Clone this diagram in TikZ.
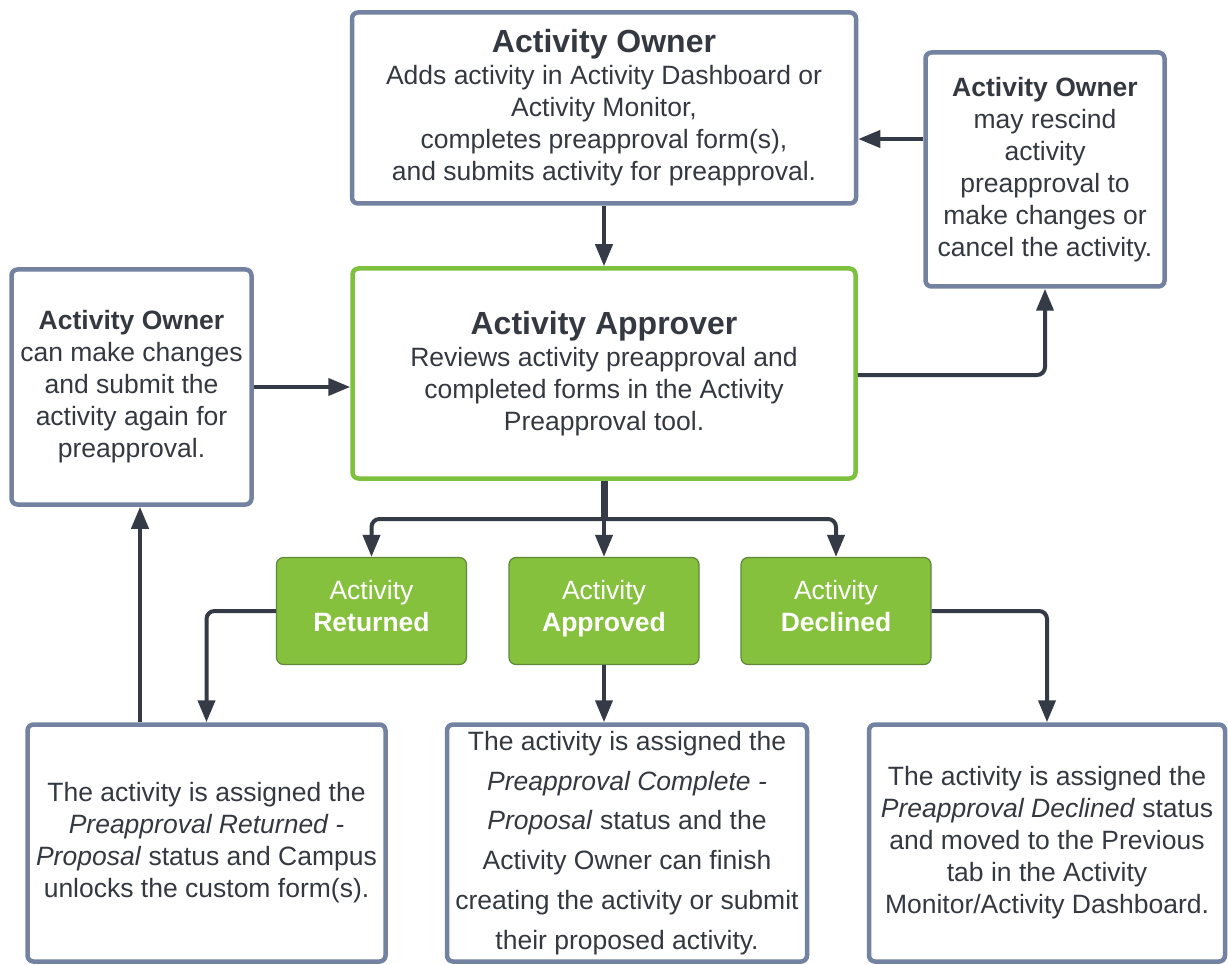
\documentclass[tikz,border=0pt]{standalone}
\usepackage{fontspec}
\setmainfont{Liberation Sans}
\usetikzlibrary{arrows.meta}
\definecolor{boxgrey}{RGB}{114,130,160}
\definecolor{textdark}{RGB}{52,57,65}
\definecolor{approvergreen}{RGB}{125,193,62}
\definecolor{statusgreen}{RGB}{133,193,61}
\definecolor{statusedge}{RGB}{96,136,58}
\definecolor{linkdark}{RGB}{52,58,70}
\newcommand\boxtitle[1]{{\fontsize{32}{38}\selectfont\bfseries #1}}
\begin{document}
\begin{tikzpicture}[x=1pt,y=-1pt,
    box/.style={draw=boxgrey,line width=4.5pt,rounded corners=6pt,fill=white,text=textdark,
      align=center,inner sep=0pt,font=\fontsize{26.5}{32}\selectfont},
    approverbox/.style={box,draw=approvergreen},
    statusbox/.style={draw=statusedge,line width=1.2pt,fill=statusgreen,text=white,rounded corners=7pt,
      align=center,inner sep=0pt,minimum width=190pt,minimum height=107pt,font=\fontsize{26.5}{32}\selectfont},
    link/.style={draw=linkdark,line width=4pt,rounded corners=8pt,-{Triangle[width=17pt,length=22pt]}},
    stem/.style={draw=linkdark,line width=7pt}]
    \useasboundingbox (0,0) rectangle (1228,965);
    % owner and approver boxes
    \node[box,minimum width=504pt,minimum height=191pt] (owner) at (604,108)
        {\boxtitle{Activity Owner}\\ Adds activity in Activity Dashboard or\\ Activity Monitor,\\
         completes preapproval form(s),\\ and submits activity for preapproval.};
    \node[box,minimum width=239pt,minimum height=234pt] (rescind) at (1045,169.5)
        {\textbf{Activity Owner}\\ may rescind\\ activity\\ preapproval to\\ make changes or\\ cancel the activity.};
    \node[approverbox,minimum width=503pt,minimum height=210pt] (approver) at (604,373.5)
        {\boxtitle{Activity Approver}\\ Reviews activity preapproval and\\ completed forms in the Activity\\ Preapproval tool.};
    \node[box,minimum width=240pt,minimum height=235pt] (changes) at (131.5,387)
        {\textbf{Activity Owner}\\ can make changes\\ and submit the\\ activity again for\\ preapproval.};
    % status boxes
    \node[statusbox] (returned) at (371.5,611) {Activity\\ \textbf{Returned}\strut};
    \node[statusbox] (approved) at (604,611) {Activity\\ \textbf{Approved}\strut};
    \node[statusbox] (declined) at (836,611) {Activity\\ \textbf{Declined}\strut};
    % result boxes
    \node[box,minimum width=358pt,minimum height=237pt] (retres) at (206.5,843)
        {The activity is assigned the\\ \textit{Preapproval Returned -}\\ \textit{Proposal} status and Campus\\ unlocks the custom form(s).};
    \node[box,minimum width=360pt,minimum height=237pt,font=\fontsize{26.5}{39.8}\selectfont] (apres) at (627,843)
        {The activity is assigned the\\ \textit{Preapproval Complete -}\\ \textit{Proposal} status and the\\ Activity Owner can finish\\
         creating the activity or submit\\ their proposed activity.};
    \node[box,minimum width=356pt,minimum height=237pt] (decres) at (1047,843)
        {The activity is assigned the\\ \textit{Preapproval Declined} status\\ and moved to the Previous\\ tab in the Activity\\ Monitor/Activity Dashboard.};
    % connectors
    \draw[link] (owner.south) -- (approver.north);
    \path ([yshift=30.5pt]rescind.west) coordinate (r1);
    \draw[link] (r1) -- (r1 -| owner.east);
    \draw[link] ([yshift=-1.5pt]approver.east) -| (rescind.south);
    \draw[link] (changes.east) -- (changes.east -| approver.west);
    \coordinate (split) at (604,519);
    \draw[stem] (approver.south) -- (split);
    \draw[link] (split) -| (returned.north);
    \draw[link] (split) -- (approved.north);
    \draw[link] (split) -| (declined.north);
    \draw[link] (returned.west) -| (retres.north);
    \draw[link] (approved.south) -- (approved.south |- apres.north);
    \draw[link] (declined.east) -| (decres.north);
    \draw[link] ([xshift=-66.5pt]retres.north) -- ([xshift=-66.5pt]retres.north |- changes.south);
\end{tikzpicture}
\end{document}
